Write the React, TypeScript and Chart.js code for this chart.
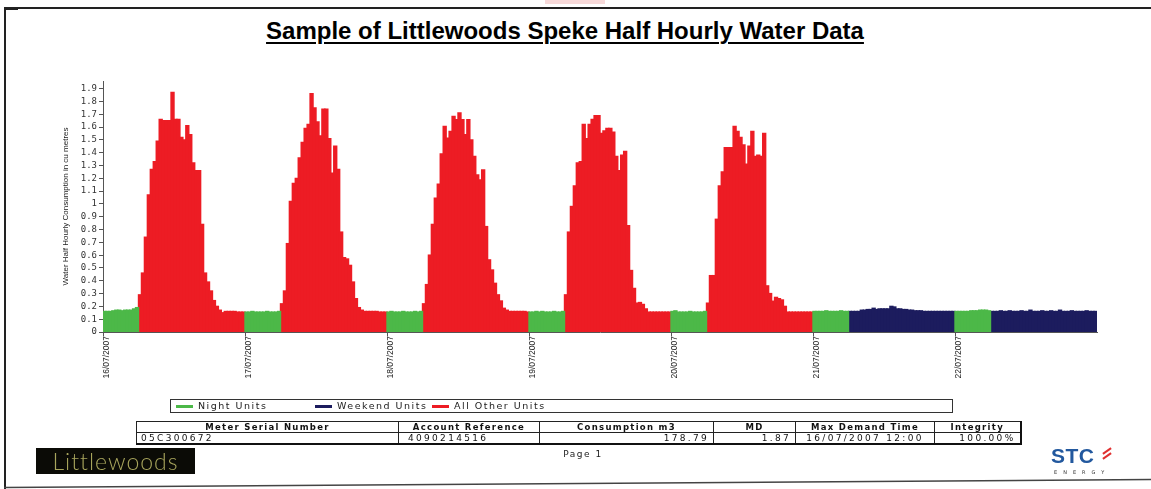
import React, { useEffect, useRef } from 'react';
import { Chart, registerables } from 'chart.js';

Chart.register(...registerables);

const chartTitle = 'Sample of Littlewoods Speke Half Hourly Water Data';
const yAxisTitle = 'Water Half Hourly Consumption in cu metres';
const dayLabels = ['16/07/2007', '17/07/2007', '18/07/2007', '19/07/2007', '20/07/2007', '21/07/2007', '22/07/2007'];
const weekendDays = [false, false, false, false, false, true, true];

// Night units (00:00 - 05:30) for each day
const night16 = [0.16, 0.16, 0.16, 0.165, 0.17, 0.17, 0.165, 0.17, 0.17, 0.17, 0.18, 0.19];
const night17 = [0.155, 0.155, 0.16, 0.155, 0.155, 0.155, 0.155, 0.16, 0.155, 0.155, 0.155, 0.16];
const night18 = [0.155, 0.16, 0.155, 0.155, 0.155, 0.16, 0.155, 0.155, 0.155, 0.16, 0.155, 0.16];
const night19 = [0.155, 0.155, 0.16, 0.155, 0.16, 0.155, 0.155, 0.155, 0.16, 0.155, 0.155, 0.16];
const night20 = [0.16, 0.165, 0.155, 0.155, 0.155, 0.155, 0.16, 0.155, 0.155, 0.155, 0.155, 0.16];
const night21 = [0.16, 0.16, 0.16, 0.16, 0.165, 0.16, 0.16, 0.16, 0.16, 0.165, 0.16, 0.16];
const night22 = [0.16, 0.16, 0.16, 0.16, 0.16, 0.165, 0.165, 0.165, 0.17, 0.17, 0.17, 0.165];

// All other units (06:00 - 23:30) on weekdays
const other16 = [0.29, 0.46, 0.74, 1.07, 1.27, 1.33, 1.49, 1.66, 1.65, 1.65, 1.65, 1.87, 1.66, 1.66, 1.52, 1.5, 1.61, 1.54, 1.32, 1.26, 1.26, 0.84, 0.46, 0.39, 0.32, 0.245, 0.2, 0.17, 0.15, 0.16, 0.16, 0.16, 0.16, 0.155, 0.155, 0.155];
const other17 = [0.22, 0.32, 0.69, 1.02, 1.16, 1.2, 1.36, 1.48, 1.59, 1.62, 1.86, 1.75, 1.64, 1.53, 1.74, 1.74, 1.51, 1.24, 1.45, 1.27, 0.78, 0.58, 0.57, 0.52, 0.39, 0.26, 0.19, 0.17, 0.16, 0.16, 0.16, 0.16, 0.16, 0.155, 0.155, 0.155];
const other18 = [0.22, 0.37, 0.6, 0.84, 1.045, 1.155, 1.39, 1.605, 1.514, 1.566, 1.684, 1.658, 1.71, 1.658, 1.54, 1.658, 1.5, 1.37, 1.227, 1.188, 1.266, 0.823, 0.563, 0.484, 0.38, 0.29, 0.242, 0.185, 0.17, 0.16, 0.16, 0.16, 0.16, 0.16, 0.16, 0.155];
const other19 = [0.29, 0.78, 0.98, 1.14, 1.32, 1.33, 1.62, 1.51, 1.62, 1.66, 1.69, 1.69, 1.55, 1.57, 1.59, 1.59, 1.56, 1.37, 1.26, 1.38, 1.41, 0.83, 0.48, 0.34, 0.225, 0.23, 0.215, 0.18, 0.155, 0.155, 0.155, 0.155, 0.155, 0.155, 0.155, 0.155];
const other20 = [0.225, 0.44, 0.44, 0.88, 1.14, 1.25, 1.44, 1.44, 1.44, 1.605, 1.566, 1.52, 1.46, 1.31, 1.45, 1.566, 1.37, 1.38, 1.37, 1.55, 0.36, 0.3, 0.24, 0.27, 0.26, 0.25, 0.2, 0.155, 0.155, 0.155, 0.155, 0.155, 0.155, 0.155, 0.155, 0.155];

// Weekend units (06:00 - 23:30) on Saturday and Sunday
const weekend21 = [0.16, 0.16, 0.16, 0.16, 0.17, 0.17, 0.175, 0.175, 0.185, 0.175, 0.18, 0.18, 0.18, 0.18, 0.2, 0.195, 0.18, 0.18, 0.175, 0.175, 0.17, 0.17, 0.165, 0.165, 0.165, 0.16, 0.16, 0.16, 0.16, 0.16, 0.16, 0.16, 0.16, 0.16, 0.16, 0.16];
const weekend22 = [0.16, 0.16, 0.16, 0.165, 0.16, 0.16, 0.165, 0.16, 0.16, 0.16, 0.165, 0.16, 0.16, 0.17, 0.16, 0.16, 0.16, 0.165, 0.16, 0.16, 0.165, 0.16, 0.16, 0.17, 0.16, 0.16, 0.16, 0.165, 0.16, 0.16, 0.16, 0.16, 0.165, 0.16, 0.16, 0.16];

const nightByDay = [night16, night17, night18, night19, night20, night21, night22];
const restByDay = [other16, other17, other18, other19, other20, weekend21, weekend22];

const seriesNames = ['Night Units', 'Weekend Units', 'All Other Units'];
const seriesColors = ['#4cb848', '#1c1c5e', '#ed1c24'];

const yTickStep = 0.1;
const yMax = 1.96;

const tableHeaders = ['Meter Serial Number', 'Account Reference', 'Consumption m3', 'MD', 'Max Demand Time', 'Integrity'];
const tableValues = ['05C300672', '4090214516', '178.79', '1.87', '16/07/2007 12:00', '100.00%'];
const pageLabel = 'Page 1';

const SLOTS_PER_DAY = 48;
const NIGHT_SLOTS = 12;

const labels: string[] = [];
const nightData: (number | null)[] = [];
const weekendData: (number | null)[] = [];
const otherData: (number | null)[] = [];
dayLabels.forEach((d, di) => {
  for (let h = 0; h < SLOTS_PER_DAY; h++) {
    const hh = String(Math.floor(h / 2)).padStart(2, '0');
    const mm = h % 2 ? '30' : '00';
    labels.push(`${d} ${hh}:${mm}`);
    if (h < NIGHT_SLOTS) {
      nightData.push(nightByDay[di][h]);
      weekendData.push(null);
      otherData.push(null);
    } else {
      const v = restByDay[di][h - NIGHT_SLOTS];
      nightData.push(null);
      if (weekendDays[di]) {
        weekendData.push(v);
        otherData.push(null);
      } else {
        otherData.push(v);
        weekendData.push(null);
      }
    }
  }
});

const W = 1151;
const H = 489;

export default function App() {
  const canvasRef = useRef<HTMLCanvasElement | null>(null);

  useEffect(() => {
    const canvas = canvasRef.current;
    if (!canvas) return;
    const mk = (i: number, data: (number | null)[]) => ({
      label: seriesNames[i],
      data,
      backgroundColor: seriesColors[i],
      borderColor: seriesColors[i],
      borderWidth: 0,
      inflateAmount: 0.7,
    });
    const chart = new Chart(canvas, {
      type: 'bar',
      data: {
        labels,
        datasets: [mk(0, nightData), mk(1, weekendData), mk(2, otherData)],
      },
      options: {
        responsive: false,
        animation: false,
        devicePixelRatio: 1,
        layout: { padding: { left: 0, top: 81, right: W - 1097, bottom: H - 332 - 60 } },
        datasets: { bar: { barPercentage: 1, categoryPercentage: 1 } },
        plugins: { legend: { display: false }, tooltip: { enabled: false }, title: { display: false } },
        scales: {
          x: {
            stacked: true,
            grid: {
              offset: true,
              drawOnChartArea: false,
              tickLength: 4,
              color: (ctx: any) => (ctx.index !== undefined && ctx.index % SLOTS_PER_DAY === 0 ? '#555' : 'rgba(0,0,0,0)'),
            },
            border: { display: true, color: '#555', width: 1 },
            ticks: {
              autoSkip: false,
              maxRotation: 90,
              minRotation: 90,
              padding: 0,
              labelOffset: 2,
              color: '#222',
              font: { family: 'Liberation Sans Narrow, Liberation Sans, Arial', size: 8.5 },
              callback: (_v: any, i: number) => (i % SLOTS_PER_DAY === 0 ? dayLabels[i / SLOTS_PER_DAY] : ''),
            },
            afterFit: (s: any) => { s.height = 60; },
          },
          y: {
            stacked: true,
            min: 0,
            max: yMax,
            grid: { drawOnChartArea: false, tickLength: 4, color: '#555' },
            border: { display: true, color: '#555', width: 1 },
            ticks: {
              stepSize: yTickStep,
              autoSkip: false,
              includeBounds: false,
              padding: 2,
              color: '#333',
              font: { family: 'DejaVu Sans Mono', size: 9 },
              callback: (v: any) => String(Number(Number(v).toFixed(1))),
            },
            title: {
              display: true,
              text: yAxisTitle,
              color: '#222',
              font: { family: 'Liberation Sans Narrow, Liberation Sans, Arial', size: 8 },
              padding: { top: 61, bottom: 0 },
            },
            afterFit: (s: any) => { s.width = 103; },
          },
        },
      },
    });
    return () => chart.destroy();
  }, []);

  const colWidths = [262, 141, 174, 82, 139, 86];
  const colAlign: ('left' | 'right' | 'center')[] = ['left', 'left', 'right', 'right', 'center', 'right'];
  const colPad = ['0 0 0 4px', '0 0 0 9px', '0 4px 0 0', '0 4px 0 0', '0', '0 4px 0 0'];

  const legendX = [176, 315, 432];

  return (
    <div style={{ position: 'absolute', left: 0, top: 0, width: W, height: H, background: '#fff', overflow: 'hidden' }}>
      <div style={{ position: 'absolute', left: 545, top: 0, width: 60, height: 4, background: '#f8dada' }} />
      <div style={{ position: 'absolute', left: 4, top: 7, width: 1147, height: 480, borderTop: '2px solid #222', borderLeft: '2px solid #222' }} />
      <div style={{ position: 'absolute', left: 4, top: 7, width: 14, height: 3, background: '#222' }} />
      <svg width={W} height={H} style={{ position: 'absolute', left: 0, top: 0 }}>
        <line x1={4} y1={487.5} x2={W} y2={479.5} stroke="#444" strokeWidth={1.5} />
      </svg>
      <div
        style={{
          position: 'absolute', left: 0, top: 19, width: 1130, textAlign: 'center',
          fontFamily: 'Liberation Sans, Arial, sans-serif', fontWeight: 'bold', fontSize: 24, lineHeight: '24px',
          textDecoration: 'underline', textDecorationThickness: '2px', textUnderlineOffset: '3px', color: '#000',
        }}
      >
        {chartTitle}
      </div>
      <canvas ref={canvasRef} width={W} height={H} style={{ position: 'absolute', left: 0, top: 0, width: W, height: H }} />
      <div style={{ position: 'absolute', left: 170, top: 399, width: 781, height: 12, border: '1px solid #333' }}>
        {seriesNames.map((n, i) => (
          <div key={n} style={{ position: 'absolute', left: legendX[i] - 171, top: 0, height: 12, display: 'flex', alignItems: 'center', whiteSpace: 'nowrap' }}>
            <span style={{ display: 'inline-block', width: 17, height: 3, background: seriesColors[i], marginRight: 5 }} />
            <span style={{ fontFamily: 'DejaVu Sans, Verdana, sans-serif', fontSize: 9.5, letterSpacing: '1.5px', color: '#222', lineHeight: '12px' }}>{n}</span>
          </div>
        ))}
      </div>
      <table
        style={{
          position: 'absolute', left: 136, top: 421, borderCollapse: 'collapse', tableLayout: 'fixed',
          width: colWidths.reduce((a, b) => a + b, 0), borderRight: '2px solid #111', borderBottom: '2px solid #111',
        }}
      >
        <colgroup>
          {colWidths.map((w, i) => <col key={i} style={{ width: w }} />)}
        </colgroup>
        <tbody>
          <tr>
            {tableHeaders.map((h) => (
              <td key={h} style={{ border: '1px solid #222', height: 10, padding: 0, textAlign: 'center', fontFamily: 'DejaVu Sans, Verdana, sans-serif', fontWeight: 'bold', fontSize: 8.5, letterSpacing: '1.3px', lineHeight: '10px', color: '#111', whiteSpace: 'nowrap' }}>{h}</td>
            ))}
          </tr>
          <tr>
            {tableValues.map((v, i) => (
              <td key={i} style={{ border: '1px solid #222', height: 10, padding: colPad[i], textAlign: colAlign[i], fontFamily: 'DejaVu Sans, Verdana, sans-serif', fontSize: 9, letterSpacing: '2.3px', lineHeight: '10px', color: '#111', whiteSpace: 'nowrap' }}>{v}</td>
            ))}
          </tr>
        </tbody>
      </table>
      <div style={{ position: 'absolute', left: 553, top: 449, width: 60, textAlign: 'center', fontFamily: 'DejaVu Sans, Verdana, sans-serif', fontSize: 9, letterSpacing: '1.5px', color: '#222' }}>{pageLabel}</div>
      <div style={{ position: 'absolute', left: 36, top: 448, width: 159, height: 26, background: '#0b0b06', display: 'flex', alignItems: 'center', justifyContent: 'center' }}>
        <span style={{ fontFamily: 'Lato, sans-serif', fontWeight: 300, fontSize: 23, letterSpacing: '1px', color: '#a8a55c', lineHeight: '26px' }}>Littlewoods</span>
      </div>
      <div style={{ position: 'absolute', left: 1051, top: 444, width: 80, height: 35 }}>
        <span style={{ position: 'absolute', left: 0, top: 0, fontFamily: 'Liberation Sans, Arial, sans-serif', fontWeight: 'bold', fontSize: 21, letterSpacing: '0.5px', color: '#22589e', lineHeight: '24px' }}>STC</span>
        <span style={{ position: 'absolute', left: 51, top: 6, width: 10, height: 2, background: '#e03030', transform: 'rotate(-35deg)' }} />
        <span style={{ position: 'absolute', left: 51, top: 11, width: 10, height: 2, background: '#e03030', transform: 'rotate(-35deg)' }} />
        <span style={{ position: 'absolute', left: 3, top: 25, fontFamily: 'DejaVu Sans, sans-serif', fontSize: 5, letterSpacing: '6px', color: '#333' }}>ENERGY</span>
      </div>
    </div>
  );
}
